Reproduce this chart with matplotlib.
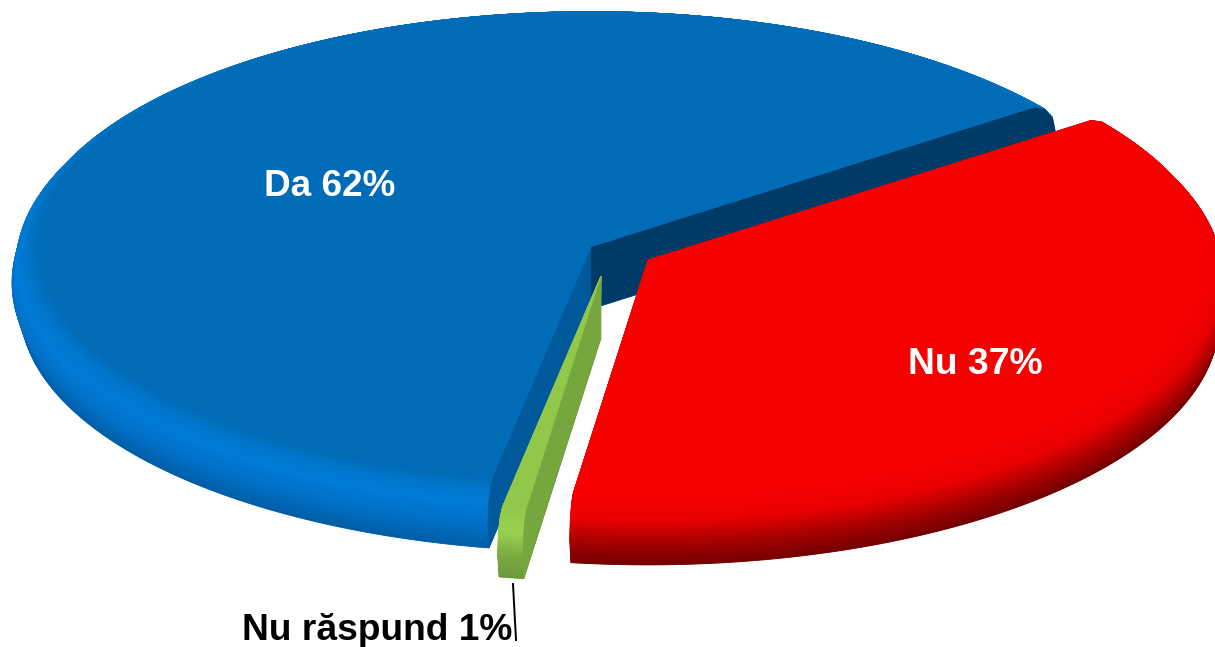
import numpy as np
import matplotlib
matplotlib.use('Agg')
import matplotlib.pyplot as plt
from matplotlib.colors import to_rgb

# data
labels = ['Da', 'Nu răspund', 'Nu']
values = [62, 0.7, 37.3]

# pie geometry in pixels
start_angle = 36.5
rx = 579
ry = 246.6
apexes = [(591, 247), (601, 276), (648, 260)]

# bevel profile, bottom of the rim first
offsets = [62, 36, 16, 5, 0]
radii = [0.985, 1.0, 0.992, 0.975, 0.952]

ramps = [
    ['#005ea6', '#0170c6', '#007bd8', '#0076cc', '#006cb8'],
    ['#6c9a3c', '#7cab42', '#9ad050', '#96cc4c', '#92c84a'],
    ['#740000', '#a80000', '#e80000', '#f20000', '#f60000'],
]
flat_colors = ['#006cb8', '#92c84a', '#f60000']
# faces at the first and the last ray of each slice, None when hidden
face_colors = [('#003a66', '#00599b'), (None, '#76a63e'), (None, None)]


def wedge_points(apex, a0, a1, r, off):
    t = np.radians(np.linspace(a0, a1, 300))
    x = apex[0] + rx * r * np.cos(t)
    y = apex[1] + off - ry * r * np.sin(t)
    return np.r_[apex[0], x], np.r_[apex[1] + off, y]


def face_points(apex, a):
    t = np.radians(a)
    x = [apex[0]] + [apex[0] + rx * r * np.cos(t) for r in radii[::-1]] + [apex[0]]
    y = [apex[1]] + [apex[1] + o - ry * r * np.sin(t) for o, r in zip(offsets[::-1], radii[::-1])] + [apex[1] + offsets[0]]
    return x, y


fig = plt.figure(figsize=(12.15, 6.47), dpi=100)
ax = fig.add_axes([0, 0, 1, 1])
ax.set_xlim(0, 1215)
ax.set_ylim(647, 0)
ax.axis('off')

plt.rcParams['font.family'] = ['Liberation Sans', 'DejaVu Sans']

angles = start_angle + np.r_[0, np.cumsum(values)] * 360 / sum(values)

for i in range(len(values)):
    a0, a1 = angles[i], angles[i + 1]
    apex = apexes[i]
    z = 10 * (i + 1)
    rgb = np.array([to_rgb(c) for c in ramps[i]])
    pos = np.arange(len(offsets))
    for s in np.linspace(0, len(offsets) - 1, 120):
        off = np.interp(s, pos, offsets)
        r = np.interp(s, pos, radii)
        col = [np.interp(s, pos, rgb[:, k]) for k in range(3)]
        wx, wy = wedge_points(apex, a0, a1, r, off)
        ax.fill(wx, wy, color=col, lw=0.6, zorder=z)
    for a, c in zip((a0, a1), face_colors[i]):
        if c is not None:
            fx, fy = face_points(apex, a)
            ax.fill(fx, fy, color=c, lw=0, zorder=z + 1)
    wx, wy = wedge_points(apex, a0, a1, radii[-1], 0)
    ax.fill(wx, wy, color=flat_colors[i], lw=0, zorder=z + 2)

# labels
ax.text(330, 186, f'{labels[0]} {values[0]:.0f}%', color='white', fontsize=26.6, fontweight='bold',
        ha='center', va='center', zorder=50)
ax.text(975, 364, f'{labels[2]} {values[2]:.0f}%', color='white', fontsize=26.8, fontweight='bold',
        ha='center', va='center', zorder=50)
ax.text(377, 631, f'{labels[1]} {values[1]:.0f}%', color='black', fontsize=26.7, fontweight='bold',
        ha='center', va='center', zorder=50)
ax.plot([513, 516], [584, 640], color='black', lw=1.4, zorder=50)

fig.savefig('out.png', dpi=100)
